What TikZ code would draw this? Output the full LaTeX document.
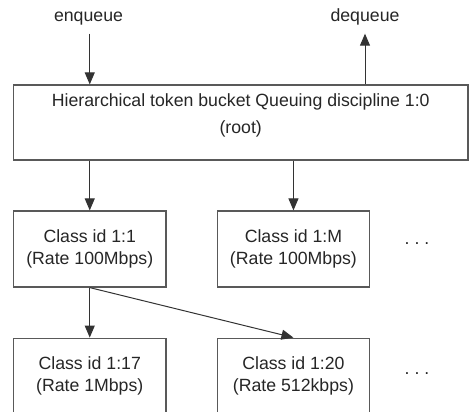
\documentclass[tikz,border=0pt]{standalone}
\usepackage{fontspec}
\setmainfont{Liberation Sans}
\usetikzlibrary{arrows.meta,positioning}

\tikzset{
  classbox/.style={rectangle,draw=black!65,line width=1.2pt,minimum width=152.5pt,
    minimum height=76pt,align=center,inner sep=0pt,text=black!85,
    font=\fontsize{17.7}{22}\selectfont},
  qlabel/.style={inner sep=0pt,outer sep=8pt,text=black!85,font=\fontsize{17.7}{22}\selectfont},
  qarrow/.style={draw=black!80,line width=1pt,-{Triangle[length=12pt,width=10pt]}}
}

\begin{document}
\begin{tikzpicture}[x=1pt,y=-1pt]
  \useasboundingbox (0,0) rectangle (469,412);
  \clip (0,0) rectangle (469,412);
  \node[classbox,minimum width=454.5pt,minimum height=75pt,text depth=18pt,
    font=\fontsize{17.7}{27}\selectfont] (root) at (240.75,122.5)
    {Hierarchical token bucket Queuing discipline 1:0\\(root)};
  \node[classbox] (c11) at (89.75,249) {Class id 1:1\\(Rate 100Mbps)};
  \node[classbox,right=50pt of c11] (c1m) {Class id 1:M\\(Rate 100Mbps)};
  \node[classbox,below=50pt of c11] (c117) {Class id 1:17\\(Rate 1Mbps)};
  \node[classbox,below=50pt of c1m] (c120) {Class id 1:20\\(Rate 512kbps)};
  \node[qlabel,anchor=base] (enq) at (88.5,22) {enqueue};
  \node[qlabel,anchor=base] (deq) at (365,22) {dequeue};
  \node[qlabel,anchor=base] (dots1) at (417,244) {.\ .\ .};
  \node[qlabel,anchor=base] (dots2) at (417,374) {.\ .\ .};
  % queue in and out
  \draw[qarrow] (enq.south -| c11) -- (c11 |- root.north);
  \draw[qarrow] (root.north -| deq) -- (deq.south);
  % classes
  \draw[qarrow] (root.south -| c11) -- (c11);
  \draw[qarrow] (root.south -| c1m) -- (c1m);
  \draw[qarrow] (c11) -- (c117);
  \draw[qarrow] (c11.south) -- (c120.north);
\end{tikzpicture}
\end{document}
